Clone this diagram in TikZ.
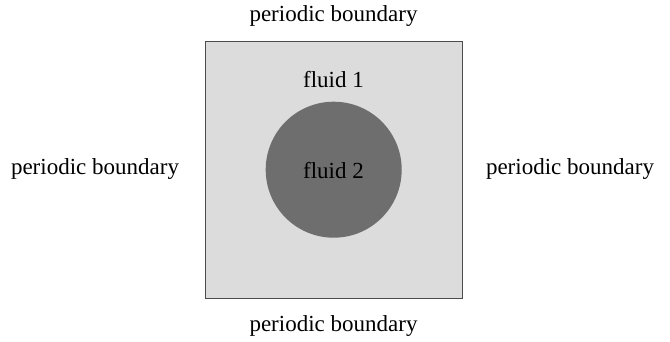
\documentclass[tikz,border=0pt]{standalone}
\usepackage{fontspec}
\setmainfont{Liberation Serif}
\definecolor{fluidone}{gray}{0.863}
\definecolor{fluidtwo}{gray}{0.43}
\definecolor{edge}{gray}{0.3}
\begin{document}
\begin{tikzpicture}[x=1pt,y=-1pt,
  lbl/.style={font=\fontsize{23}{27}\selectfont, text=black, inner sep=0pt}]
\useasboundingbox (0,0) rectangle (670,341);
% periodic domain filled with fluid 1
\node[draw=edge, line width=1pt, fill=fluidone, minimum width=257pt, minimum height=257pt, inner sep=0pt] (box) at (333.5,169.5) {};
% droplet of fluid 2
\node[circle, fill=fluidtwo, minimum size=136pt, inner sep=0pt] (drop) at (333.7,169.7) {};
\node[lbl] (f2) at (333.5,171) {fluid 2};
\node[lbl] (f1) at (333.5,80) {fluid 1};
% boundary labels
\node[lbl] (top) at (333.5,16) {periodic boundary};
\node[lbl] (bot) at (333.5,326) {periodic boundary};
\node[lbl] (lft) at (95,169) {periodic boundary};
\node[lbl] (rgt) at (570,169) {periodic boundary};
\end{tikzpicture}
\end{document}
